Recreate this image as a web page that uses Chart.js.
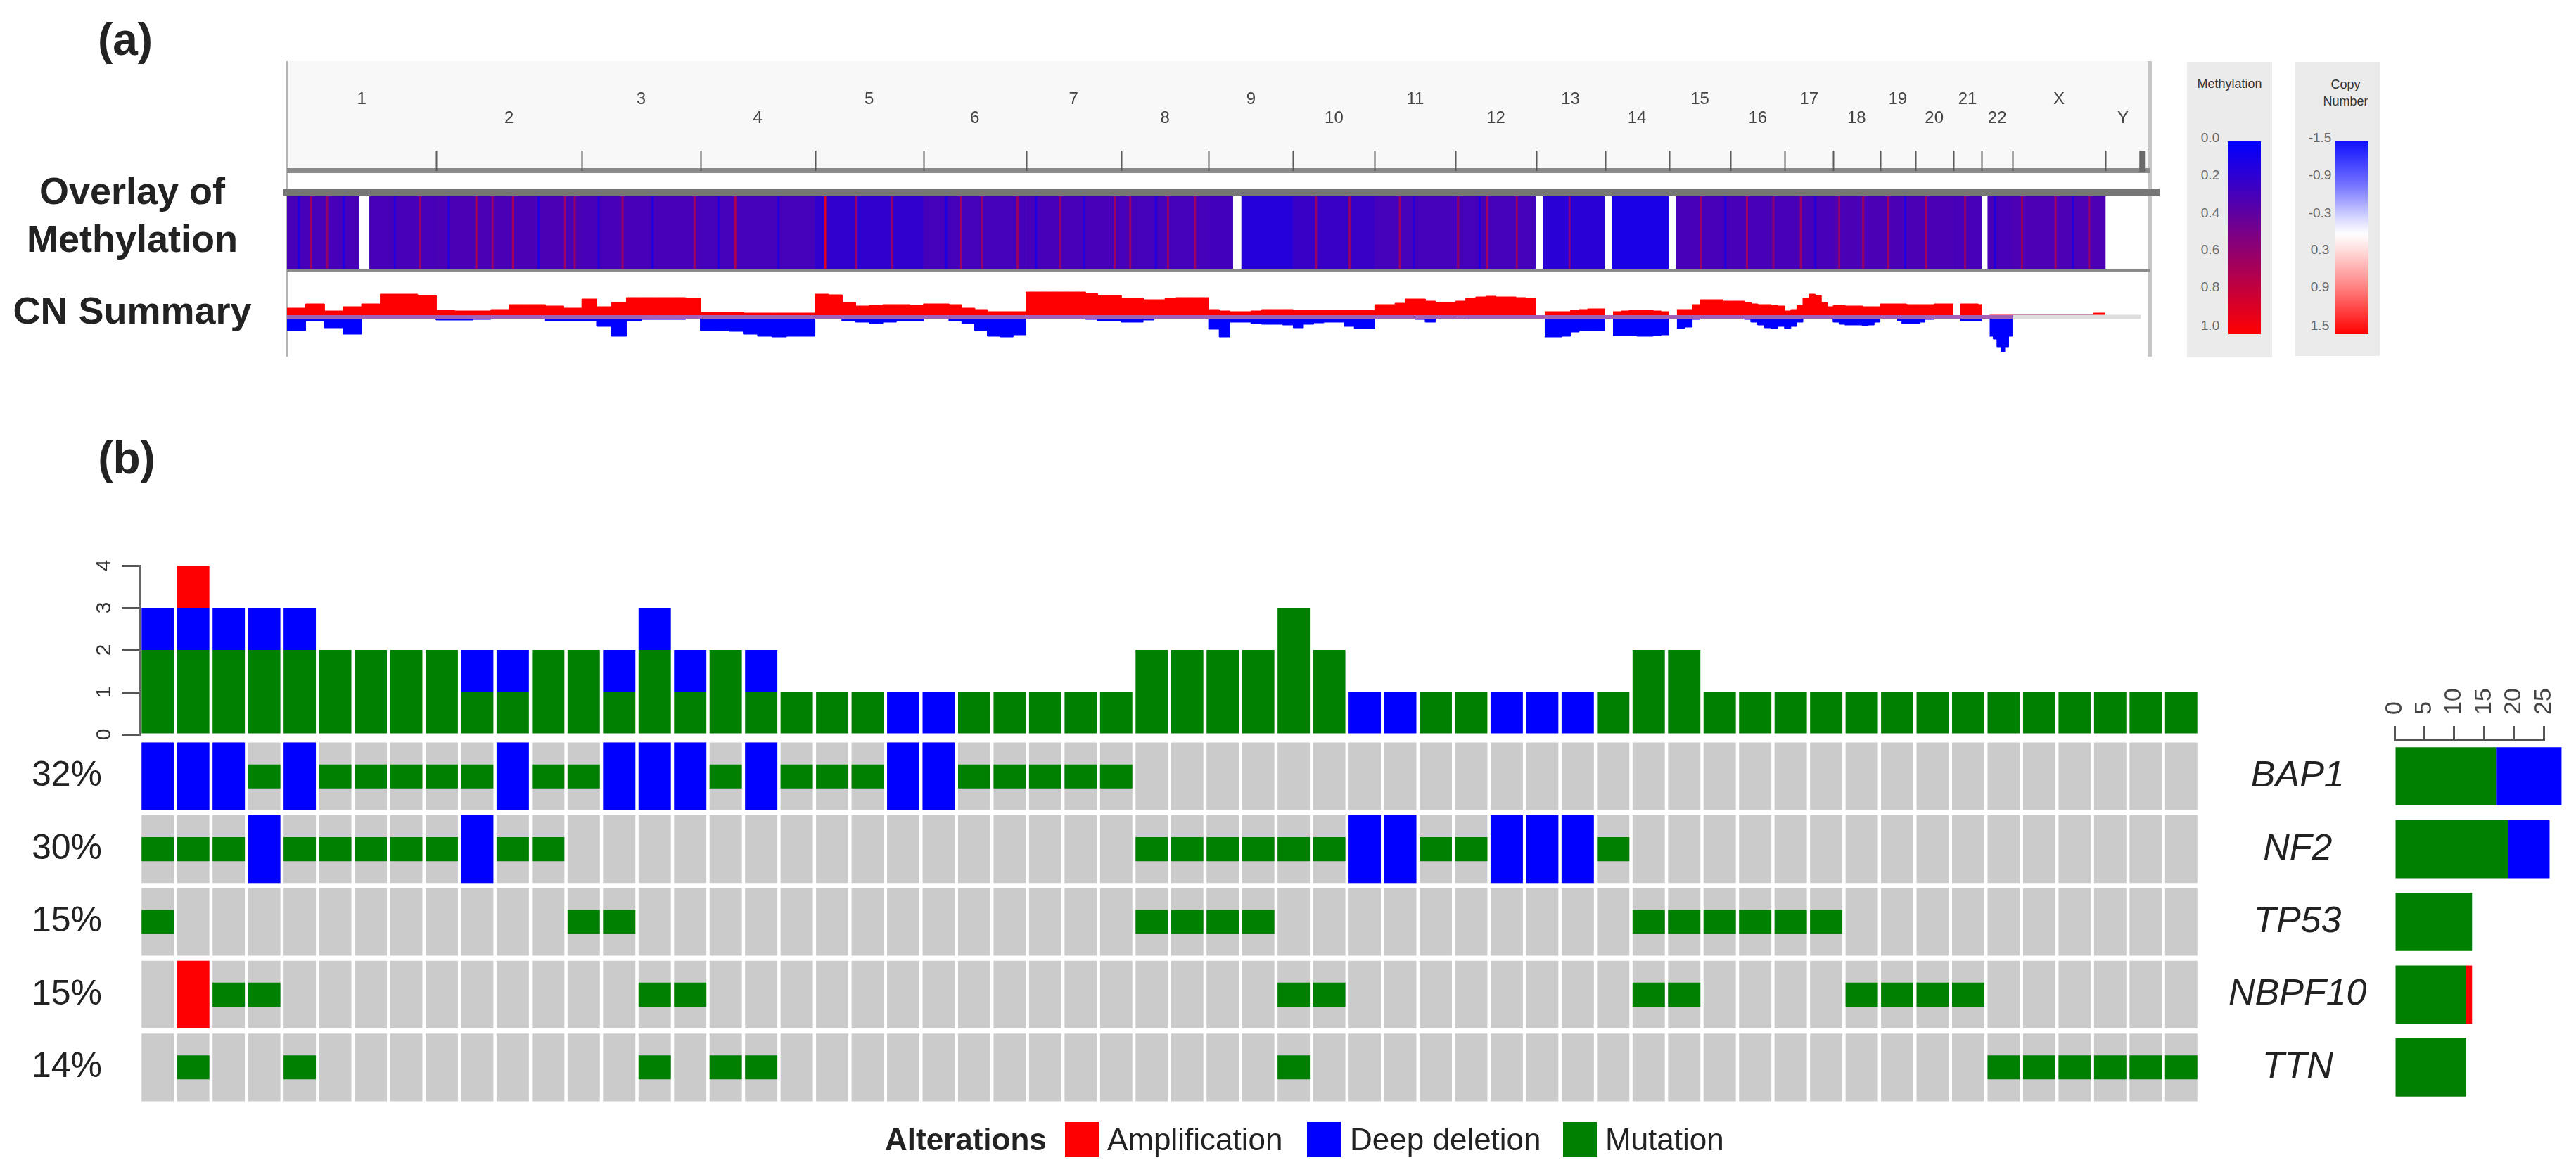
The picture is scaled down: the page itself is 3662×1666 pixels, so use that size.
<!DOCTYPE html>
<html>
<head>
<meta charset="utf-8">
<script src="https://cdn.jsdelivr.net/npm/chart.js@4.4.0/dist/chart.umd.min.js"></script>
<style>
  body { margin: 0; background: #fff; font-family: 'Liberation Sans', Arial, sans-serif; color: #222; }
  #page { position: relative; width: 3662px; height: 1666px; overflow: hidden; background: #fff; }
  canvas, .abs { position: absolute; }
  .panel-tag { font-weight: bold; font-size: 64px; line-height: 70px; width: 120px; text-align: center; }
  .track-lab { left: 0; width: 376px; text-align: center; font-weight: bold; font-size: 54px; line-height: 60px; }
  .leg { font-size: 44px; line-height: 50px; white-space: nowrap; }
  .sw { width: 48px; height: 50px; }
  .cbox { background: #ebebeb; }
  .cbox .t { position: absolute; width: 121px; left: 0; text-align: center; font-size: 18px; line-height: 22px; color: #333; }
  .cbox .v { position: absolute; width: 50px; text-align: center; font-size: 19px; line-height: 22px; color: #666; }
  .cbox .g { position: absolute; left: 58px; top: 113px; width: 47px; height: 274px; }
</style>
</head>
<body>
<div id="page">
  <div class="abs panel-tag" style="left:118px; top:21px;">(a)</div>
  <div class="abs panel-tag" style="left:120px; top:616px;">(b)</div>

  <!-- genome browser frame -->
  <div class="abs" style="left:408px; top:87px; width:2648px; height:152px; background:#f8f8f8;"></div>
  <div class="abs" style="left:407px; top:87px; width:2px; height:420px; background:#b4b4b4;"></div>
  <div class="abs" style="left:3053px; top:87px; width:6px; height:420px; background:#c6c6c6;"></div>
  <div class="abs" style="left:408px; top:239px; width:2648px; height:7px; background:#8a8a8a;"></div>
  <div class="abs" style="left:402px; top:268px; width:2668px; height:11px; background:#767676;"></div>
  <div class="abs" style="left:408px; top:382px; width:2648px; height:4px; background:#8a8a8a;"></div>

  <div class="abs track-lab" style="top:241px;">Overlay of</div>
  <div class="abs track-lab" style="top:309px;">Methylation</div>
  <div class="abs track-lab" style="top:411px;">CN Summary</div>

  <canvas id="ruler" width="2648" height="159" style="left:408px; top:87px;"></canvas>
  <canvas id="meth" width="2648" height="103" style="left:408px; top:279px;"></canvas>
  <canvas id="cn" width="2648" height="114" style="left:408px; top:386px;"></canvas>

  <!-- colour keys of panel (a) -->
  <div class="abs cbox" style="left:3109px; top:88px; width:121px; height:420px;">
    <div class="t" style="top:20px;">Methylation</div>
    <div class="g" style="background:linear-gradient(to bottom,#0000ff,#ff0000);"></div>
    <div class="v" style="left:8px; top:97px;">0.0</div>
    <div class="v" style="left:8px; top:150px;">0.2</div>
    <div class="v" style="left:8px; top:204px;">0.4</div>
    <div class="v" style="left:8px; top:256px;">0.6</div>
    <div class="v" style="left:8px; top:309px;">0.8</div>
    <div class="v" style="left:8px; top:364px;">1.0</div>
  </div>
  <div class="abs cbox" style="left:3262px; top:88px; width:121px; height:418px;">
    <div class="t" style="top:21px; left:12px;">Copy</div>
    <div class="t" style="top:45px; left:12px;">Number</div>
    <div class="g" style="background:linear-gradient(to bottom,#1010ff 0%,#7070ff 22%,#d8d8ff 40%,#ffffff 48%,#ffdede 56%,#ff8080 76%,#ff0000 100%);"></div>
    <div class="v" style="left:11px; top:97px;">-1.5</div>
    <div class="v" style="left:11px; top:150px;">-0.9</div>
    <div class="v" style="left:11px; top:204px;">-0.3</div>
    <div class="v" style="left:11px; top:256px;">0.3</div>
    <div class="v" style="left:11px; top:309px;">0.9</div>
    <div class="v" style="left:11px; top:364px;">1.5</div>
  </div>

  <!-- panel (b) -->
  <canvas id="top" width="3140" height="300" style="left:0px; top:760px;"></canvas>
  <canvas id="grid" width="3390" height="600" style="left:0px; top:1000px;"></canvas>
  <canvas id="geneBars" width="312" height="700" style="left:3350px; top:900px;"></canvas>

  <div class="abs leg" style="left:1258px; top:1595px; font-weight:bold;">Alterations</div>
  <div class="abs sw" style="left:1514px; top:1595px; background:#ff0000;"></div>
  <div class="abs leg" style="left:1574px; top:1595px;">Amplification</div>
  <div class="abs sw" style="left:1858px; top:1595px; background:#0000ff;"></div>
  <div class="abs leg" style="left:1919px; top:1595px;">Deep deletion</div>
  <div class="abs sw" style="left:2222px; top:1595px; background:#008000;"></div>
  <div class="abs leg" style="left:2282px; top:1595px;">Mutation</div>
</div>

<script>
// ---------- panel (a): genome overview ----------
const chromNames = ['1', '2', '3', '4', '5', '6', '7', '8', '9', '10', '11', '12',
  '13', '14', '15', '16', '17', '18', '19', '20', '21', '22', 'X', 'Y'];
const chromLenMb = [249, 243, 198, 191, 181, 171, 159, 146, 141, 136, 135, 134,
  115, 107, 103, 90, 81, 78, 59, 63, 48, 51, 155, 59];

// methylation (beta) segments along the genome, Mb from start of chr1
const methSegments = [
  [0, 249, 0.28], [249, 492, 0.29], [492, 690, 0.28], [690, 881, 0.27],
  [881, 1062, 0.19], [1062, 1233, 0.27], [1233, 1392, 0.28], [1392, 1538, 0.27],
  [1538, 1593, 0.26], [1593, 1679, 0.15], [1679, 1815, 0.22], [1815, 1950, 0.27],
  [1950, 2084, 0.27], [2084, 2199, 0.16], [2199, 2306, 0.1], [2306, 2409, 0.28],
  [2409, 2580, 0.28], [2580, 2780, 0.29], [2780, 2879, 0.28], [2879, 3034, 0.3]
];
// narrow probes that stand out (position Mb, beta)
const methStripes = [
  [40, 0.62], [67, 0.58], [222, 0.6], [316, 0.66], [343, 0.6], [377, 0.64], [464, 0.62],
  [480, 0.58], [560, 0.6], [680, 0.62], [748, 0.65], [898, 0.85], [950, 0.6], [1010, 0.58],
  [1125, 0.62], [1160, 0.56], [1219, 0.6], [1290, 0.58], [1381, 0.62], [1407, 0.6],
  [1470, 0.58], [1515, 0.6], [1717, 0.6], [1773, 0.58], [1857, 0.62], [1954, 0.6],
  [2003, 0.62], [2052, 0.58], [2140, 0.5], [2359, 0.6], [2436, 0.62], [2480, 0.58],
  [2526, 0.6], [2590, 0.58], [2630, 0.62], [2672, 0.6], [2735, 0.64], [2800, 0.58],
  [2895, 0.6], [2951, 0.62], [3007, 0.6],
  [20, 0.12], [95, 0.12], [180, 0.14], [270, 0.12], [420, 0.12], [520, 0.14], [610, 0.12],
  [720, 0.12], [820, 0.14], [1100, 0.12], [1250, 0.12], [1330, 0.14], [1450, 0.12],
  [1880, 0.14], [1990, 0.12], [2400, 0.12], [2550, 0.14], [2700, 0.12], [2850, 0.12], [2980, 0.14]
];
// regions without probes (centromeres / acrocentric arms)
const methNoData = [[121, 137], [1579, 1592], [2084, 2095], [2199, 2210], [2306, 2317], [2828, 2837]];

// CN summary: 8 equal bins per chromosome, gain (up) and loss (down) frequency
const cnGain = [
  [10, 16, 6, 12, 16, 30, 30, 28], [7, 6, 6, 8, 15, 15, 13, 10], [23, 12, 18, 25, 25, 25, 25, 24],
  [4, 4, 4, 3, 3, 3, 3, 3], [30, 29, 18, 13, 14, 15, 15, 14], [16, 16, 15, 10, 8, 5, 5, 5],
  [33, 33, 33, 33, 33, 31, 28, 28], [24, 24, 22, 22, 24, 25, 25, 25], [8, 6, 5, 5, 6, 8, 8, 8],
  [7, 7, 7, 7, 7, 7, 7, 7], [15, 15, 17, 23, 23, 20, 18, 18], [20, 24, 26, 27, 26, 26, 25, 24],
  [null, 5, 5, 5, 7, 8, 9, 9], [null, 5, 6, 7, 7, 7, 6, 5], [null, 8, 8, 15, 22, 22, 22, 20],
  [20, 20, 18, 16, 15, 15, 14, 13], [6, 8, 14, 24, 30, 28, 18, 12], [14, 14, 13, 13, 13, 12, 12, 12],
  [16, 16, 16, 16, 16, 16, 15, 15], [15, 15, 15, 15, 16, 16, 16, 16], [null, null, 16, 16, 16, 16, 16, 15],
  [null, null, 0, 0, 0, 0, 0, 0], [0, 0, 0, 0, 0, 0, 0, 3],
  [null, null, null, null, null, null, null, null]
];
const cnLoss = [
  [22, 8, 18, 27, 0, 0, 0, 0], [7, 7, 6, 0, 0, 0, 8, 8], [8, 16, 30, 8, 6, 6, 6, 0],
  [22, 22, 23, 27, 30, 31, 30, 30], [0, 0, 8, 10, 12, 10, 8, 8], [0, 0, 8, 12, 22, 30, 31, 28],
  [0, 0, 0, 0, 0, 6, 8, 8], [10, 10, 7, 0, 0, 0, 0, 0], [20, 31, 10, 10, 12, 13, 13, 14],
  [18, 13, 11, 10, 10, 16, 19, 19], [0, 0, 0, 0, 6, 10, 0, 0], [5, 0, 0, 0, 0, 0, 0, 0],
  [null, 31, 31, 30, 24, 22, 22, 22], [null, 29, 29, 29, 30, 30, 29, 28], [null, 19, 17, 6, 0, 0, 0, 0],
  [0, 0, 6, 10, 14, 18, 19, 16], [19, 16, 10, 0, 0, 0, 0, 0], [10, 13, 14, 14, 14, 15, 14, 10],
  [0, 0, 0, 0, 8, 12, 12, 12], [12, 10, 6, 6, 0, 0, 0, 0], [null, null, 8, 8, 8, 8, 8, 8],
  [null, null, 30, 34, 45, 52, 45, 30], [0, 0, 0, 0, 0, 0, 0, 0],
  [null, null, null, null, null, null, null, null]
];

// ---------- panel (b): oncoprint ----------
const genes = ['BAP1', 'NF2', 'TP53', 'NBPF10', 'TTN'];
const genePct = ['32%', '30%', '15%', '15%', '14%'];
// one letter per sample: D deep deletion, A amplification, M mutation, . none
const alterations = [
  'DDDMDMMMMM DMMDDDMDMM MDDMMMMM.. .......... .......... ........',
  'MMMDMMMMMD MM........ ........MM MMMMDDMMDD DM........ ........',
  'M......... ..MM...... ........MM MM........ ..MMMMMM.. ........',
  '.AMM...... ....MM.... .......... ..MM...... ..MM....MM MM......',
  '.M..M..... ....M.MM.. .......... ..M....... .......... ..MMMMMM'
].map(r => r.replace(/ /g, ''));
const samples = alterations[0].split('').map((_, j) => 'S' + (j + 1));

const altColors = { M: '#008000', D: '#0000ff', A: '#ff0000' };
const FONT = "'Liberation Sans', Arial, sans-serif";
Chart.defaults.font.family = FONT;
Chart.defaults.animation = false;
Chart.defaults.plugins.legend.display = false;
Chart.defaults.plugins.tooltip.enabled = false;

const chromStart = [];
let acc = 0;
chromLenMb.forEach(l => { chromStart.push(acc); acc += l; });
const genomeEnd = acc;
const genomeAxisMax = 3108;   // right frame of the browser panel

const methColor = v => `rgb(${Math.round(255 * v)},0,${Math.round(255 * (1 - v))})`;
const genomeX = { type: 'linear', min: 0, max: genomeAxisMax, display: false };
// keep axis label overhang from shrinking the plot area
const noOverhang = a => { a.paddingLeft = 0; a.paddingRight = 0; a.paddingTop = 0; a.paddingBottom = 0; };

// chromosome ruler
const rulerPlugin = {
  id: 'rulerPlugin',
  afterDraw(chart) {
    const { ctx } = chart;
    const x = chart.scales.x;
    ctx.save();
    ctx.fillStyle = '#444';
    ctx.font = '24px ' + FONT;
    ctx.textAlign = 'center';
    ctx.textBaseline = 'middle';
    chromNames.forEach((name, i) => {
      const px = x.getPixelForValue(chromStart[i] + chromLenMb[i] / 2);
      ctx.fillText(name, px, i % 2 === 0 ? 54 : 81);
    });
    ctx.strokeStyle = '#5a5a5a';
    ctx.lineWidth = 2;
    for (let i = 1; i < chromNames.length; i++) {
      const px = Math.round(x.getPixelForValue(chromStart[i])) + 0.5;
      ctx.beginPath();
      ctx.moveTo(px, 127);
      ctx.lineTo(px, 156);
      ctx.stroke();
    }
    ctx.fillStyle = '#6a6a6a';
    ctx.fillRect(x.getPixelForValue(genomeEnd) - 2, 127, 9, 30);
    ctx.restore();
  }
};

new Chart(document.getElementById('ruler'), {
  type: 'scatter',
  data: { datasets: [] },
  options: {
    responsive: false, devicePixelRatio: 1,
    layout: { padding: 0 },
    scales: { x: genomeX, y: { display: false, min: 0, max: 1 } }
  },
  plugins: [rulerPlugin]
});

// methylation heat strip (first dataset is painted on top)
const barSeg = { type: 'bar', grouped: false, barPercentage: 1, categoryPercentage: 1, borderWidth: 0 };
new Chart(document.getElementById('meth'), {
  type: 'bar',
  data: {
    labels: ['meth'],
    datasets: [
      Object.assign({}, barSeg, {
        data: methNoData.map(s => ({ x: [s[0], s[1]], y: 'meth' })),
        backgroundColor: '#ffffff'
      }),
      Object.assign({}, barSeg, {
        data: methStripes.map(s => ({ x: [s[0] - 1.4, s[0] + 1.4], y: 'meth' })),
        backgroundColor: methStripes.map(s => methColor(s[1]))
      }),
      Object.assign({}, barSeg, {
        data: methSegments.map(s => ({ x: [s[0], s[1]], y: 'meth' })),
        backgroundColor: methSegments.map(s => methColor(s[2]))
      })
    ]
  },
  options: {
    indexAxis: 'y', responsive: false, devicePixelRatio: 1,
    layout: { padding: 0 },
    scales: { x: genomeX, y: { type: 'category', display: false, offset: true } }
  }
});

// CN summary
function cnPoints(rows, sign) {
  const pts = [];
  rows.forEach((bins, c) => {
    const w = chromLenMb[c] / bins.length;
    bins.forEach((v, b) => {
      const x0 = chromStart[c] + b * w;
      if (v === null) { pts.push({ x: x0, y: null }); return; }
      pts.push({ x: x0, y: sign * v }, { x: x0 + w, y: sign * v });
    });
  });
  return pts;
}
const cnLine = { pointRadius: 0, borderWidth: 1, spanGaps: false, tension: 0 };
new Chart(document.getElementById('cn'), {
  type: 'line',
  data: {
    datasets: [
      Object.assign({}, cnLine, { data: [{ x: 0, y: -2.5 }, { x: chromStart[22], y: -2.5 }], borderWidth: 5, borderColor: '#a45fb6', fill: false }),
      Object.assign({}, cnLine, { data: [{ x: chromStart[22], y: -2.5 }, { x: genomeEnd, y: -2.5 }], borderWidth: 6, borderColor: '#dedede', fill: false }),
      Object.assign({}, cnLine, { data: cnPoints(cnGain, 1), fill: 'origin', backgroundColor: '#ff0000', borderColor: '#ff0000' }),
      Object.assign({}, cnLine, { data: cnPoints(cnLoss, -1), fill: 'origin', backgroundColor: '#0000ff', borderColor: '#0000ff' })
    ]
  },
  options: {
    responsive: false, devicePixelRatio: 1,
    layout: { padding: 0 },
    scales: { x: genomeX, y: { display: false, min: -52, max: 62 } }
  }
});

// ---------- oncoprint ----------
const countBy = code => samples.map((_, j) => alterations.filter(r => r[j] === code).length);
const colBar = { barPercentage: 0.91, categoryPercentage: 1, borderWidth: 0 };

new Chart(document.getElementById('top'), {
  type: 'bar',
  data: {
    labels: samples,
    datasets: [
      Object.assign({}, colBar, { label: 'Mutation', data: countBy('M'), backgroundColor: altColors.M }),
      Object.assign({}, colBar, { label: 'Deep deletion', data: countBy('D'), backgroundColor: altColors.D }),
      Object.assign({}, colBar, { label: 'Amplification', data: countBy('A'), backgroundColor: altColors.A })
    ]
  },
  options: {
    responsive: false, devicePixelRatio: 1,
    layout: { padding: { top: 44, bottom: 16, right: 14, left: 0 } },
    scales: {
      x: { type: 'category', stacked: true, display: false, offset: true },
      y: {
        stacked: true, min: 0, max: 4, position: 'left',
        afterFit: a => { a.width = 199; noOverhang(a); },
        ticks: { stepSize: 1, font: { size: 30 }, color: '#333', minRotation: 90, maxRotation: 90, crossAlign: 'center', padding: 16 },
        grid: { drawOnChartArea: false, tickLength: 26, lineWidth: 3, color: '#555' },
        border: { display: true, width: 3, color: '#666' }
      }
    }
  }
});

const full = i => [i + 0.035, i + 0.965];
const mid = i => [i + 0.335, i + 0.665];
const cells = (code, span) => {
  const out = [];
  alterations.forEach((row, i) => row.split('').forEach((c, j) => {
    if (code === null || c === code) out.push({ x: samples[j], y: span(i) });
  }));
  return out;
};
const cellBar = { type: 'bar', grouped: false, barPercentage: 0.91, categoryPercentage: 1, borderWidth: 0 };
const rowTicks = axis => { axis.ticks = genes.map((g, i) => ({ value: i + 0.5 })); };

new Chart(document.getElementById('grid'), {
  type: 'bar',
  data: {
    labels: samples,
    datasets: [
      Object.assign({}, cellBar, { data: cells('M', mid), backgroundColor: altColors.M }),
      Object.assign({}, cellBar, { data: cells('A', full), backgroundColor: altColors.A }),
      Object.assign({}, cellBar, { data: cells('D', full), backgroundColor: altColors.D }),
      Object.assign({}, cellBar, { data: cells(null, full), backgroundColor: '#cbcbcb' })
    ]
  },
  options: {
    responsive: false, devicePixelRatio: 1,
    layout: { padding: { top: 52, bottom: 31, left: 0, right: 0 } },
    scales: {
      x: { type: 'category', display: false, offset: true },
      y: { type: 'linear', min: 0, max: 5, reverse: true, display: false },
      yPct: {
        type: 'linear', position: 'left', min: 0, max: 5, reverse: true,
        afterBuildTicks: rowTicks, afterFit: a => { a.width = 199; noOverhang(a); },
        grid: { display: false, drawTicks: false }, border: { display: false },
        ticks: { callback: (v, i) => genePct[i], font: { size: 50 }, color: '#222', padding: 54, autoSkip: false }
      },
      yGene: {
        type: 'linear', position: 'right', min: 0, max: 5, reverse: true,
        afterBuildTicks: rowTicks, afterFit: a => { a.width = 264; noOverhang(a); },
        grid: { display: false, drawTicks: false }, border: { display: false },
        ticks: { callback: (v, i) => genes[i], font: { size: 52, style: 'italic' }, color: '#222', padding: 42, crossAlign: 'center', autoSkip: false }
      }
    }
  }
});

const geneCount = code => alterations.map(r => r.split('').filter(c => c === code).length);
const geneBar = { barPercentage: 0.8, categoryPercentage: 1, borderWidth: 0, clip: false };
new Chart(document.getElementById('geneBars'), {
  type: 'bar',
  data: {
    labels: genes,
    datasets: [
      Object.assign({}, geneBar, { data: geneCount('M'), backgroundColor: altColors.M }),
      Object.assign({}, geneBar, { data: geneCount('D'), backgroundColor: altColors.D }),
      Object.assign({}, geneBar, { data: geneCount('A'), backgroundColor: altColors.A })
    ]
  },
  options: {
    indexAxis: 'y', responsive: false, devicePixelRatio: 1,
    layout: { padding: { left: 54, right: 46, top: 0, bottom: 31 } },
    scales: {
      x: {
        position: 'top', stacked: true, min: 0, max: 25,
        afterFit: a => { a.height = 152; noOverhang(a); },
        ticks: { stepSize: 5, minRotation: 90, maxRotation: 90, labelOffset: 41, font: { size: 34 }, color: '#444', padding: 16, autoSkip: false },
        grid: { drawOnChartArea: false, tickLength: 20, lineWidth: 3, color: '#555' },
        border: { display: true, width: 3, color: '#555' }
      },
      y: { stacked: true, display: false, offset: true }
    }
  }
});
</script>
</body>
</html>
